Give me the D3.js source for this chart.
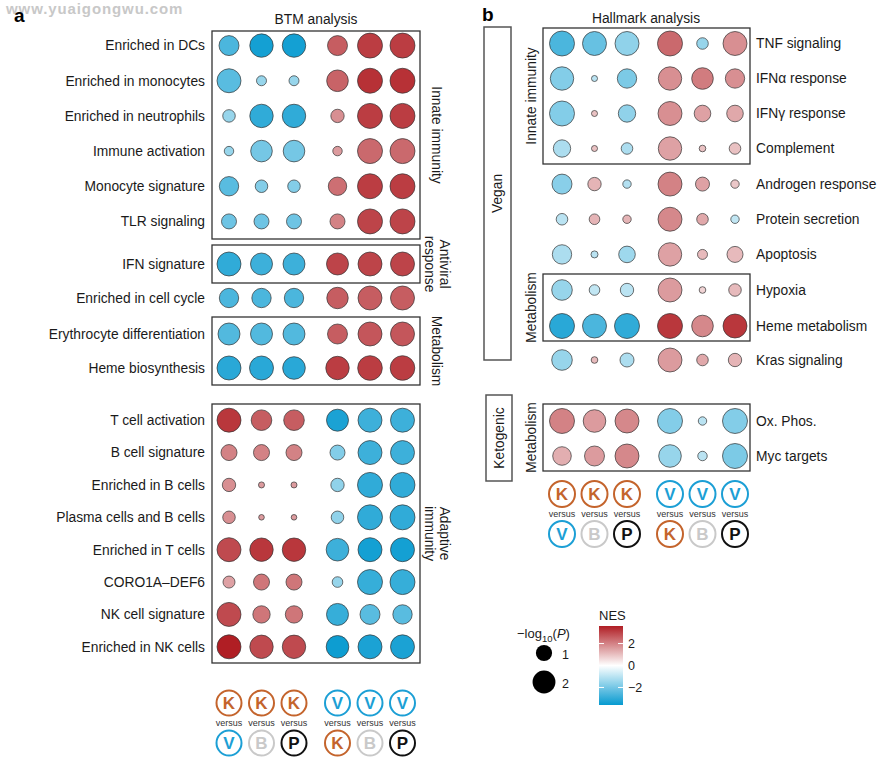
<!DOCTYPE html>
<html><head><meta charset="utf-8">
<script src="https://cdn.jsdelivr.net/npm/d3@7"></script>
<style>body{margin:0;background:#fff} text{font-family:"Liberation Sans",Arial,sans-serif;fill:#1a1a1a}</style>
</head><body><svg id="c" width="894" height="767"></svg>
<script>
// ---------------- DATA ----------------
const compTop = ["K","K","K","V","V","V"];
const compBottom = ["V","B","P","K","B","P"];
const dietColors = {K:"#c4642c", V:"#1c9fd5", B:"#c9c9c9", P:"#111111"};

const btmRows = ["Enriched in DCs","Enriched in monocytes","Enriched in neutrophils","Immune activation",
 "Monocyte signature","TLR signaling","IFN signature","Enriched in cell cycle","Erythrocyte differentiation",
 "Heme biosynthesis","T cell activation","B cell signature","Enriched in B cells","Plasma cells and B cells",
 "Enriched in T cells","CORO1A\u2013DEF6","NK cell signature","Enriched in NK cells"];
const btmNES = [
 [-2.6,-3.4,-3.4, 2.6, 3.1, 3.1],
 [-2.4,-1.5,-1.5, 2.5, 3.3, 3.3],
 [-1.5,-3.0,-3.0, 1.8, 3.1, 3.1],
 [-1.5,-2.0,-2.0, 1.6, 2.4, 2.4],
 [-2.4,-1.8,-1.8, 2.3, 3.1, 3.1],
 [-2.1,-2.1,-2.1, 2.0, 3.0, 3.0],
 [-3.0,-2.8,-2.8, 3.0, 3.0, 3.0],
 [-2.6,-2.6,-2.6, 2.6, 2.6, 2.6],
 [-2.5,-2.5,-2.5, 2.6, 2.7, 2.7],
 [-3.1,-3.1,-3.1, 3.1, 3.1, 3.1],
 [ 3.2, 2.6, 2.6,-3.3,-2.8,-2.8],
 [ 2.0, 2.0, 2.0,-1.8,-2.8,-2.8],
 [ 1.8, 1.6, 1.6,-1.6,-3.0,-3.0],
 [ 1.8, 1.6, 1.6,-1.6,-3.0,-3.0],
 [ 2.9, 3.2, 3.2,-2.8,-3.4,-3.4],
 [ 1.5, 2.2, 2.2,-1.5,-2.9,-2.9],
 [ 2.9, 2.2, 2.2,-2.9,-2.4,-2.4],
 [ 3.6, 2.9, 2.9,-3.5,-3.3,-3.3]];
const btmLogP = [
 [1.52,2.09,2.09,1.52,2.38,2.38],
 [2.19,0.38,0.38,1.78,2.38,2.38],
 [0.60,2.09,2.09,0.68,2.38,2.38],
 [0.34,1.78,1.78,0.34,2.38,2.38],
 [1.43,0.60,0.60,1.29,2.38,2.38],
 [0.86,0.86,0.86,0.86,2.38,2.38],
 [2.19,1.84,1.84,1.84,2.19,2.19],
 [1.43,1.43,1.43,1.75,2.19,2.19],
 [1.84,1.84,1.84,1.52,2.19,2.19],
 [2.19,2.19,1.95,2.09,2.31,2.31],
 [2.19,1.62,1.62,1.84,2.19,2.19],
 [0.98,0.98,0.98,0.86,2.19,2.19],
 [0.68,0.14,0.14,0.68,2.38,2.38],
 [0.60,0.12,0.12,0.60,2.38,2.38],
 [2.19,2.09,2.09,1.95,2.19,2.19],
 [0.55,0.98,0.98,0.43,2.38,2.38],
 [2.19,1.15,1.15,1.84,1.52,1.43],
 [2.19,2.09,2.09,1.95,2.19,2.19]];
const btmGroupLabels = [["Innate immunity"],["Antiviral","response"],null,["Metabolism"],["Adaptive","immunity"]];

const hallRows = ["TNF signaling","IFN\u03b1 response","IFN\u03b3 response","Complement","Androgen response",
 "Protein secretion","Apoptosis","Hypoxia","Heme metabolism","Kras signaling","Ox. Phos.","Myc targets"];
const hallNES = [
 [-2.6,-2.2,-1.6, 2.4,-1.5, 1.8],
 [-1.8,-1.0,-1.9, 1.8, 2.1, 1.8],
 [-1.8, 1.0,-1.6, 1.8, 1.5, 1.4],
 [-1.2, 1.0,-1.2, 1.5, 1.0, 1.0],
 [-1.7, 1.2,-1.1, 2.0, 1.5, 0.9],
 [-1.0, 1.2, 1.2, 1.9, 1.4,-0.9],
 [-1.2,-1.0,-1.4, 1.5, 1.1, 1.1],
 [-1.5,-0.9,-1.0, 1.6, 0.7, 1.1],
 [-3.1,-2.6,-3.0, 3.2, 1.9, 3.2],
 [-1.5, 1.1,-1.2, 1.6, 1.4, 1.2],
 [ 2.0, 1.6, 1.9,-1.8,-1.0,-1.8],
 [ 1.3, 1.6, 1.9,-1.5,-1.0,-1.9]];
const hallLogP = [
 [2.38,2.19,2.19,2.38,0.51,2.19],
 [2.09,0.14,1.43,2.09,1.78,1.43],
 [2.38,0.14,1.15,2.19,1.05,1.05],
 [1.15,0.14,0.51,2.09,0.17,0.51],
 [1.52,0.68,0.27,2.19,0.75,0.27],
 [0.51,0.43,0.27,2.19,0.51,0.27],
 [1.43,0.19,1.05,2.09,0.38,0.98],
 [1.62,0.43,0.68,2.19,0.17,0.60],
 [2.38,2.19,2.38,2.38,1.78,2.19],
 [1.62,0.17,0.75,2.19,0.51,0.68],
 [2.38,1.95,2.19,2.38,0.27,2.38],
 [1.32,1.52,2.19,1.95,0.34,2.38]];
const hallGroupLabels = [["Innate immunity"],null,["Metabolism"],null,["Metabolism"]];
const hallDiets = ["Vegan","Ketogenic"];

const nesTicks = [-2,0,2];
const sizeLegendValues = [1,2];

// ---------------- LAYOUT ----------------
const FS = 13.8;
const svg = d3.select("#c");
const color = d3.scaleLinear().domain([-3.6,0,3.6]).range(["#069ad0","#ffffff","#b01e24"]).interpolate(d3.interpolateRgb);
const rScale = d3.scaleSqrt().domain([0,1]).range([0,8.1]);

function colScale(x0, step, gap){
  const s = d3.scaleLinear().domain([0,1]).range([x0, x0+step]);
  return i => s(i) + (i>=3 ? gap : 0);
}

function drawPanel(cfg){
  const g = svg.append("g");
  const xs = colScale(cfg.x0, 32.5, cfg.gap);
  cfg.sections.forEach((sec, si) => {
    const idx = d3.range(sec.rows[0], sec.rows[1]);
    const y = d3.scaleBand().domain(idx).range(sec.band);
    if (sec.box) {
      g.append("rect").attr("x", cfg.boxX[0]).attr("y", sec.box[0])
        .attr("width", cfg.boxX[1]-cfg.boxX[0]).attr("height", sec.box[1]-sec.box[0])
        .attr("fill","none").attr("stroke","#333").attr("stroke-width",1.3);
    }
    idx.forEach(ri => {
      const cy = y(ri) + y.bandwidth()/2;
      g.append("text").attr("x", cfg.labelX).attr("y", cy).attr("dy","0.35em")
        .attr("text-anchor", cfg.labelAnchor).attr("font-size",FS).text(cfg.rows[ri]);
      g.selectAll(null).data(cfg.nes[ri]).enter().append("circle")
        .attr("cx",(d,i)=>xs(i)).attr("cy",cy)
        .attr("r",(d,i)=>rScale(cfg.logp[ri][i]))
        .attr("fill",d=>color(d)).attr("stroke","#333").attr("stroke-width",0.7);
    });
    const lab = cfg.groupLabels[si];
    if (lab && sec.box) {
      const cyc = (sec.box[0]+sec.box[1])/2;
      const n = lab.length;
      lab.forEach((t, li) => {
        const off = (li - (n-1)/2) * 15 * cfg.lineDir;
        g.append("text")
          .attr("transform", `translate(${cfg.groupX + off},${cyc}) rotate(${cfg.rot})`)
          .attr("text-anchor","middle").attr("dy","0.35em").attr("font-size",FS).text(t);
      });
    }
  });
  // comparison icons
  const icons = g.append("g");
  d3.range(6).forEach(i => {
    const cx = xs(i);
    [[compTop[i], cfg.iconY[0]],[compBottom[i], cfg.iconY[2]]].forEach(([L, cy]) => {
      icons.append("circle").attr("cx",cx).attr("cy",cy).attr("r",cfg.iconR)
        .attr("fill","#fff").attr("stroke",dietColors[L]).attr("stroke-width",2);
      icons.append("text").attr("x",cx).attr("y",cy).attr("dy","0.36em").attr("text-anchor","middle")
        .attr("font-size",17).attr("font-weight","bold").style("fill",dietColors[L]).text(L);
    });
    icons.append("text").attr("x",cx).attr("y",cfg.iconY[1]).attr("dy","0.35em").attr("text-anchor","middle")
      .attr("font-size",9).style("fill","#333").text("versus");
  });
}

// Panel a
drawPanel({
  x0:229, gap:11, boxX:[212,420], labelX:205, labelAnchor:"end",
  rows:btmRows, nes:btmNES, logp:btmLogP, groupLabels:btmGroupLabels,
  groupX:437, rot:90, lineDir:-1,
  sections:[
    {rows:[0,6], box:[31,239], band:[28,239]},
    {rows:[6,7], box:[245,283], band:[245,283]},
    {rows:[7,8], box:null, band:[281,315]},
    {rows:[8,10], box:[317,385], band:[317,385]},
    {rows:[10,18], box:[404,663], band:[404,663]}],
  iconY:[703,723,743], iconR:12.5
});
// Panel b
drawPanel({
  x0:562, gap:10.5, boxX:[543,750], labelX:756, labelAnchor:"start",
  rows:hallRows, nes:hallNES, logp:hallLogP, groupLabels:hallGroupLabels,
  groupX:531, rot:-90, lineDir:1,
  sections:[
    {rows:[0,4], box:[28,164], band:[26,166]},
    {rows:[4,7], box:null, band:[166.5,272]},
    {rows:[7,9], box:[274,341], band:[272,344]},
    {rows:[9,10], box:null, band:[343,377]},
    {rows:[10,12], box:[404,471], band:[403.5,473.5]}],
  iconY:[494,514,534], iconR:13
});

// diet boxes (panel b)
[[hallDiets[0],484,27,27,333],[hallDiets[1],486,395,26,86]].forEach(([t,x,y,w,h])=>{
  svg.append("rect").attr("x",x).attr("y",y).attr("width",w).attr("height",h)
    .attr("fill","none").attr("stroke","#555").attr("stroke-width",1.5);
  svg.append("text").attr("transform",`translate(${x+w/2},${y+h/2}) rotate(-90)`)
    .attr("text-anchor","middle").attr("dy","0.35em").attr("font-size",FS).text(t);
});

// titles
svg.append("text").attr("x",316).attr("y",24).attr("text-anchor","middle").attr("font-size",FS).text("BTM analysis");
svg.append("text").attr("x",646).attr("y",23).attr("text-anchor","middle").attr("font-size",FS).text("Hallmark analysis");
svg.append("text").attr("x",6).attr("y",14).attr("font-size",15).attr("font-weight","bold")
  .style("fill","#c8c8c8").attr("letter-spacing",0.9).text("www.yuaigongwu.com");
svg.append("text").attr("x",14).attr("y",22).attr("font-size",19).attr("font-weight","bold").style("fill","#000").text("a");
svg.append("text").attr("x",482).attr("y",21).attr("font-size",19).attr("font-weight","bold").style("fill","#000").text("b");

// size legend
const lg = svg.append("g");
const lt = lg.append("text").attr("x",517).attr("y",638).attr("font-size",13);
lt.append("tspan").text("\u2212log");
lt.append("tspan").attr("font-size",9.5).attr("dy",4).text("10");
lt.append("tspan").attr("dy",-4).text("(");
lt.append("tspan").attr("font-style","italic").text("P");
lt.append("tspan").text(")");
const sy = d3.scalePoint().domain(sizeLegendValues).range([653,682]);
sizeLegendValues.forEach(v=>{
  lg.append("circle").attr("cx",544).attr("cy",sy(v)).attr("r",rScale(v)).attr("fill","#000");
  lg.append("text").attr("x",562).attr("y",sy(v)+2).attr("dy","0.35em").attr("font-size",12.5).text(v);
});

// colour legend
const defs = svg.append("defs");
const grad = defs.append("linearGradient").attr("id","nesgrad").attr("x1",0).attr("y1",1).attr("x2",0).attr("y2",0);
const cy = d3.scaleLinear().domain([-3.6,3.6]).range([705,626]);
d3.range(0,41).forEach(k=>{
  const v = -3.6 + 7.2*k/40;
  grad.append("stop").attr("offset",(k/40*100)+"%").attr("stop-color",color(v));
});
svg.append("text").attr("x",599).attr("y",620).attr("font-size",13).text("NES");
svg.append("rect").attr("x",599).attr("y",626).attr("width",24).attr("height",79).attr("fill","url(#nesgrad)");
nesTicks.forEach(t=>{
  svg.append("line").attr("x1",599).attr("x2",604).attr("y1",cy(t)).attr("y2",cy(t)).attr("stroke","#fff").attr("stroke-width",1);
  svg.append("line").attr("x1",618).attr("x2",623).attr("y1",cy(t)).attr("y2",cy(t)).attr("stroke","#fff").attr("stroke-width",1);
  svg.append("text").attr("x",628).attr("y",cy(t)).attr("dy","0.35em").attr("font-size",12.5)
    .text(t<0 ? "\u2212"+Math.abs(t) : t);
});
</script></body></html>
